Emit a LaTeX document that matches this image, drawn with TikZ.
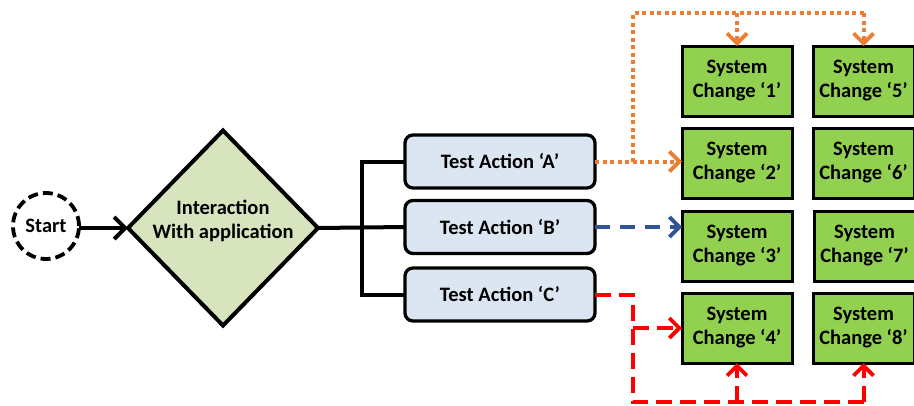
\documentclass[tikz,border=0pt]{standalone}
\usepackage{fontspec}
\setmainfont{Carlito}
\usetikzlibrary{shapes.geometric,arrows.meta}
\definecolor{boxblue}{HTML}{DCE6F2}
\definecolor{dgreen}{HTML}{D7E4BD}
\definecolor{sgreen}{HTML}{92D050}
\definecolor{oline}{HTML}{ED7D31}
\definecolor{bline}{HTML}{2F5597}
\definecolor{rline}{HTML}{FF0000}
\tikzset{
  txt/.style={font=\fontsize{20.5}{24}\selectfont\bfseries, align=center, inner sep=0pt, outer sep=0pt},
  startnode/.style={txt, circle, draw, dashed, line width=3.8pt, dash pattern=on 10pt off 5pt, minimum size=66pt},
  decision/.style={diamond, draw, line width=4pt, fill=dgreen, minimum width=190pt, minimum height=195pt, inner sep=0pt, outer sep=0pt},
  actionbox/.style={txt, rounded corners=8pt, draw, line width=3.3pt, fill=boxblue, minimum width=190pt, minimum height=53pt},
  sysbox/.style={txt, draw, line width=3pt, fill=sgreen, minimum width=110pt, minimum height=70pt},
  sysboxr/.style={sysbox, minimum width=101pt},
  tip/.style={-{Straight Barb[length=10pt,width=20pt,line width=3.8pt]}},
  bus/.style={line width=4pt, line join=miter},
  odot/.style={line width=4pt, color=oline, dash pattern=on 4pt off 3.5pt},
  bdash/.style={line width=4pt, color=bline, dash pattern=on 15pt off 10pt},
  rdash/.style={line width=4pt, color=rline, dash pattern=on 16pt off 8pt},
}
\begin{document}
\begin{tikzpicture}[x=1pt,y=-1pt]
\useasboundingbox (0,0) rectangle (914,405);
\node[startnode] (start) at (46,226) {Start};
\node[decision] (dec) at (223,228) {};
\node[txt] (dectext) at (223,221) {Interaction\\With application};
\node[actionbox] (A) at (500,161.5) {Test Action ‘A’};
\node[actionbox] (B) at (500,227) {Test Action ‘B’};
\node[actionbox] (C) at (500,294.5) {Test Action ‘C’};
\node[sysbox] (s1) at (737,81) {System\\Change ‘1’};
\node[sysbox] (s2) at (737,163) {System\\Change ‘2’};
\node[sysbox] (s3) at (737,246) {System\\Change ‘3’};
\node[sysbox] (s4) at (737,328) {System\\Change ‘4’};
\node[sysboxr] (s5) at (863.5,81) {System\\Change ‘5’};
\node[sysboxr] (s6) at (863.5,163) {System\\Change ‘6’};
\node[sysboxr] (s7) at (864.5,246) {System\\Change ‘7’};
\node[sysboxr] (s8) at (863.5,328) {System\\Change ‘8’};
% start -> decision
\draw[line width=4pt, -{Straight Barb[length=11pt,width=22pt,line width=4pt]}] (start.east |- dec.west) -- (dec.west);
% bus
\coordinate (busx) at (362,228);
\draw[bus] (dec.east) -- (B.west);
\draw[bus] (A.west) -| (busx) |- (C.west);
% orange dotted
\coordinate (oj) at (633,161.5);
\coordinate (otop) at (633,13);
\draw[odot, tip] (A.east) -- (A.east -| s2.west);
\draw[odot] (oj) -- (otop) -- (otop -| s5.north);
\draw[odot, tip] (otop -| s5.north) -- (s5.north);
\draw[odot, tip] (otop -| s1.north) -- (s1.north);
% blue dashed
\draw[bdash, tip] (B.east) -- (B.east -| s3.west);
% red dashed
\coordinate (rj) at (633,294.5);
\coordinate (rbot) at (633,402);
\draw[rdash] (C.east) -- (rj) -- (rbot) -- (rbot -| s8.south);
\draw[rdash, tip] (rj |- s4.west) -- (s4.west);
\draw[rdash, tip] (rbot -| s4.south) -- (s4.south);
\draw[rdash, tip] (rbot -| s8.south) -- (s8.south);
\end{tikzpicture}
\end{document}
